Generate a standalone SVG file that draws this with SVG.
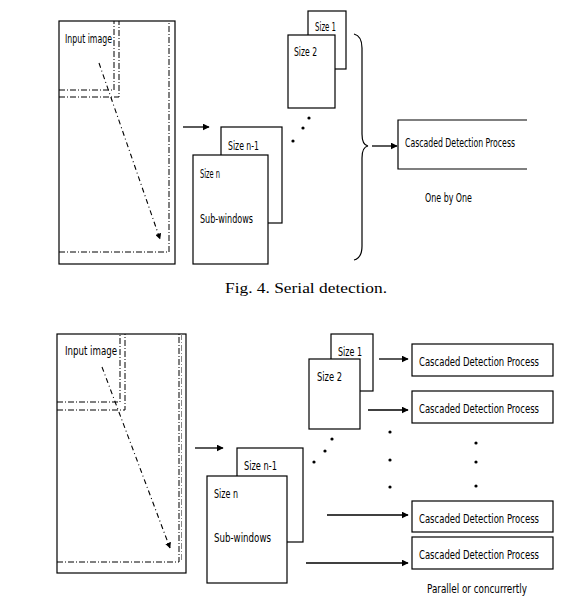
<svg xmlns="http://www.w3.org/2000/svg" width="580" height="604" viewBox="0 0 580 604">
<style>
.box{fill:#fff;stroke:#000;stroke-width:1.2}
.frame{fill:none;stroke:#000;stroke-width:1.2}
.dd{fill:none;stroke:#000;stroke-width:1;stroke-dasharray:6,2,1,2}
.ddg{fill:none;stroke:#888;stroke-width:1;stroke-dasharray:6,2,1,2}
.darr{fill:none;stroke:#000;stroke-width:1.1;stroke-dasharray:5,3,1,3}
.arr{fill:none;stroke:#000;stroke-width:1.3}
.t{font-family:'Liberation Sans Narrow','DejaVu Sans Condensed','Liberation Sans',sans-serif;font-size:11.5px;fill:#000}
.t2{font-family:'Liberation Sans Narrow','DejaVu Sans Condensed','Liberation Sans',sans-serif;font-size:12.5px;fill:#000}
.cap{font-family:'Liberation Serif',serif;font-size:15.5px;fill:#000}
.dot{fill:#000}
</style>
<defs>
<marker id="ah" viewBox="0 0 10 10" refX="9" refY="5" markerWidth="7" markerHeight="7" markerUnits="userSpaceOnUse" orient="auto">
<path d="M0,0 L10,5 L0,10 z" fill="#000"/>
</marker>
<marker id="ah2" viewBox="0 0 10 10" refX="9" refY="5" markerWidth="6" markerHeight="6" markerUnits="userSpaceOnUse" orient="auto">
<path d="M0,0 L10,5 L0,10 z" fill="#000"/>
</marker>
</defs>

<!-- Top figure: serial detection -->
<g id="input-image-top">
<rect class="frame" x="59" y="21" width="116" height="243"/>
<polyline class="dd" points="59,252 169,252 169,21"/>
<polyline class="dd" points="59,90 114,90 114,21"/>
<polyline class="dd" points="59,97 119,97 119,21"/>
<text class="t" x="65" y="43" textLength="47" lengthAdjust="spacingAndGlyphs">Input image</text>
</g>
<g id="size1-top">
<rect class="box" x="308" y="11" width="38" height="58"/>
<text class="t" x="315" y="31" textLength="21" lengthAdjust="spacingAndGlyphs">Size 1</text>
</g>
<g id="size2-top">
<rect class="box" x="288" y="35" width="47" height="73"/>
<text class="t" x="294" y="56" textLength="23" lengthAdjust="spacingAndGlyphs">Size 2</text>
</g>
<g id="sizen1-top">
<rect class="box" x="221" y="127" width="61" height="96"/>
<text class="t" x="228" y="150" textLength="31" lengthAdjust="spacingAndGlyphs">Size n-1</text>
</g>
<g id="sizen-top">
<rect class="box" x="193" y="155" width="75" height="109"/>
<text class="t" x="200" y="178" textLength="20" lengthAdjust="spacingAndGlyphs">Size n</text>
<text class="t" x="200" y="223" textLength="53" lengthAdjust="spacingAndGlyphs">Sub-windows</text>
</g>
<g id="dots-top">
<circle class="dot" cx="293" cy="141" r="1.6"/>
<circle class="dot" cx="303" cy="128" r="1.6"/>
<circle class="dot" cx="309" cy="118" r="1.6"/>
</g>
<g id="brace-top">
<path class="frame" d="M354,34 Q362,36 362,48 L362,134 Q362,145 368,146 Q362,147 362,158 L362,246 Q362,258 354,260" stroke-width="1.1"/>
</g>
<g id="cascade-top">
<polyline class="frame" points="527,120 398,120 398,169 527,169"/>
<text class="t" x="405" y="147" textLength="110" lengthAdjust="spacingAndGlyphs">Cascaded Detection Process</text>
</g>
<g id="label-onebyone">
<text class="t" x="425" y="202" textLength="47" lengthAdjust="spacingAndGlyphs">One by One</text>
</g>
<g id="caption">
<text class="cap" x="225" y="293" textLength="162" lengthAdjust="spacingAndGlyphs">Fig. 4. Serial detection.</text>
</g>

<!-- Bottom figure: parallel detection -->
<g id="input-image-bottom">
<rect class="frame" x="57" y="334" width="129" height="239"/>
<polyline class="dd" points="57,562 179,562 179,334"/>
<line class="ddg" x1="181.5" y1="334" x2="181.5" y2="562"/>
<polyline class="dd" points="57,402 120,402 120,334"/>
<polyline class="dd" points="57,410 125,410 125,334"/>
<text class="t2" x="65" y="355" textLength="52" lengthAdjust="spacingAndGlyphs">Input image</text>
</g>
<g id="size1-bottom">
<rect class="box" x="331" y="334" width="42" height="57"/>
<text class="t2" x="338" y="356" textLength="24" lengthAdjust="spacingAndGlyphs">Size 1</text>
</g>
<g id="size2-bottom">
<rect class="box" x="309" y="359" width="51" height="70"/>
<text class="t2" x="317" y="381" textLength="25" lengthAdjust="spacingAndGlyphs">Size 2</text>
</g>
<g id="sizen1-bottom">
<rect class="box" x="237" y="448" width="66" height="94"/>
<text class="t2" x="244" y="470" textLength="33" lengthAdjust="spacingAndGlyphs">Size n-1</text>
</g>
<g id="sizen-bottom">
<rect class="box" x="207" y="476" width="80" height="107"/>
<text class="t2" x="214" y="498" textLength="24" lengthAdjust="spacingAndGlyphs">Size n</text>
<text class="t2" x="214" y="542" textLength="57" lengthAdjust="spacingAndGlyphs">Sub-windows</text>
</g>
<g id="dots-bottom">
<circle class="dot" cx="314" cy="462" r="1.6"/>
<circle class="dot" cx="325" cy="451" r="1.6"/>
<circle class="dot" cx="332" cy="439" r="1.6"/>
<circle class="dot" cx="390" cy="432" r="1.6"/>
<circle class="dot" cx="390" cy="460" r="1.6"/>
<circle class="dot" cx="390" cy="487" r="1.6"/>
<circle class="dot" cx="476" cy="443" r="1.6"/>
<circle class="dot" cx="476" cy="462" r="1.6"/>
<circle class="dot" cx="476" cy="486" r="1.6"/>
</g>
<g id="cascade-1">
<rect class="box" x="412" y="344" width="141" height="32"/>
<text class="t2" x="419" y="366" textLength="120" lengthAdjust="spacingAndGlyphs">Cascaded Detection Process</text>
</g>
<g id="cascade-2">
<rect class="box" x="412" y="391" width="141" height="32"/>
<text class="t2" x="419" y="413" textLength="120" lengthAdjust="spacingAndGlyphs">Cascaded Detection Process</text>
</g>
<g id="cascade-3">
<rect class="box" x="412" y="501" width="141" height="31"/>
<text class="t2" x="419" y="523" textLength="120" lengthAdjust="spacingAndGlyphs">Cascaded Detection Process</text>
</g>
<g id="cascade-4">
<rect class="box" x="412" y="537" width="141" height="32"/>
<text class="t2" x="419" y="559" textLength="120" lengthAdjust="spacingAndGlyphs">Cascaded Detection Process</text>
</g>
<g id="label-parallel">
<text class="t2" x="427" y="593" textLength="100" lengthAdjust="spacingAndGlyphs">Parallel or concurrertly</text>
</g>

<!-- Connectors -->
<g id="connectors">
<line class="darr" x1="99" y1="63" x2="160" y2="239" marker-end="url(#ah2)"/>
<line class="arr" x1="183" y1="127" x2="209" y2="127" marker-end="url(#ah)"/>
<line class="arr" x1="372" y1="146" x2="397" y2="146" marker-end="url(#ah)"/>
<line class="darr" x1="102" y1="367" x2="170" y2="548" marker-end="url(#ah2)"/>
<line class="arr" x1="195" y1="448" x2="223" y2="448" marker-end="url(#ah)"/>
<line class="arr" x1="379" y1="359" x2="408" y2="359" marker-end="url(#ah)"/>
<line class="arr" x1="368" y1="410" x2="408" y2="410" marker-end="url(#ah)"/>
<line class="arr" x1="327" y1="515" x2="408" y2="515" marker-end="url(#ah)"/>
<line class="arr" x1="306" y1="563" x2="408" y2="563" marker-end="url(#ah)"/>
</g>
</svg>
